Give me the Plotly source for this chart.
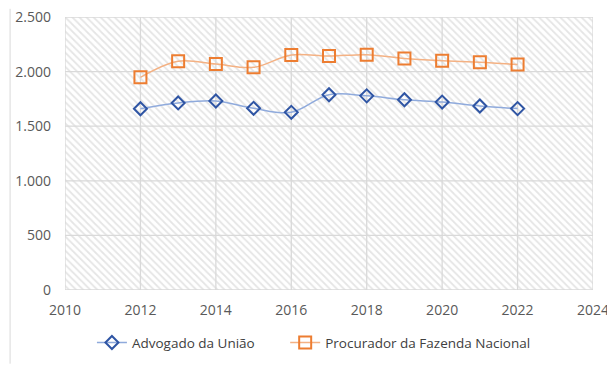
import plotly.graph_objects as go

years = [2012, 2013, 2014, 2015, 2016, 2017, 2018, 2019, 2020, 2021, 2022]
advogado = [1660, 1713, 1731, 1664, 1627, 1788, 1778, 1742, 1721, 1685, 1661]
procurador = [1948, 2095, 2069, 2039, 2152, 2142, 2155, 2121, 2100, 2085, 2064]
x_range = [2010, 2024]
x_ticks = [2010, 2012, 2014, 2016, 2018, 2020, 2022, 2024]
y_range = [0, 2500]
y_ticks = [0, 500, 1000, 1500, 2000, 2500]
y_tick_labels = ["0", "500", "1.000", "1.500", "2.000", "2.500"]

fig = go.Figure()

# hatched plot background
fig.add_trace(go.Scatter(
    x=[x_range[0], x_range[1], x_range[1], x_range[0], x_range[0]],
    y=[y_range[0], y_range[0], y_range[1], y_range[1], y_range[0]],
    mode="none", fill="toself", fillcolor="white",
    fillpattern=dict(shape="\\", fgcolor="#cccccc", bgcolor="white", size=5, solidity=0.35),
    hoverinfo="skip", showlegend=False,
))

# gridlines drawn above the hatch, built from the tick arrays
gx, gy = [], []
for t in x_ticks:
    gx += [t, t, None]
    gy += [y_range[0], y_range[1], None]
for t in y_ticks:
    gx += [x_range[0], x_range[1], None]
    gy += [t, t, None]
fig.add_trace(go.Scatter(x=gx, y=gy, mode="lines", line=dict(color="#d9d9d9", width=1.3),
                         hoverinfo="skip", showlegend=False))

fig.add_trace(go.Scatter(
    x=years, y=advogado, name="Advogado da União", legend="legend",
    mode="lines+markers", line=dict(color="#8faadc", width=1.5, shape="spline"),
    marker=dict(symbol="diamond-open", size=10, color="#2f55a4", line=dict(width=2, color="#2f55a4")),
))
fig.add_trace(go.Scatter(
    x=years, y=procurador, name="Procurador da Fazenda Nacional", legend="legend2",
    mode="lines+markers", line=dict(color="#f4b183", width=1.5, shape="spline"),
    marker=dict(symbol="square-open", size=12, color="#ed7d31", line=dict(width=2, color="#ed7d31")),
))

legend_style = dict(orientation="h", y=-0.193, yanchor="middle", xanchor="left",
                    font=dict(size=13.5, color="#404040"), bgcolor="rgba(0,0,0,0)")

fig.update_layout(
    width=607, height=363,
    margin=dict(l=57, r=22, t=9, b=81, autoexpand=False),
    paper_bgcolor="white", plot_bgcolor="white",
    font=dict(family="Open Sans, Liberation Sans, sans-serif", size=13, color="#595959"),
    showlegend=True,
    legend=dict(x=0.051, **legend_style),
    legend2=dict(x=0.417, **legend_style),
    shapes=[dict(type="line", xref="paper", yref="paper", x0=-0.104, x1=-0.104, y0=-0.27, y1=1.03,
                 line=dict(color="#d9d9d9", width=1))],
)
fig.update_xaxes(range=x_range, tickvals=x_ticks, showgrid=False,
                 zeroline=False, showline=False, ticks="", ticklabelstandoff=10,
                 ticklabeloverflow="allow", tickfont=dict(size=14, color="#595959"))
fig.update_yaxes(range=y_range, tickvals=y_ticks, ticktext=y_tick_labels, showgrid=False,
                 zeroline=False, showline=False, ticks="", ticklabelstandoff=13,
                 ticklabeloverflow="allow", tickfont=dict(size=14, color="#595959"))

fig.write_html("out.html")
